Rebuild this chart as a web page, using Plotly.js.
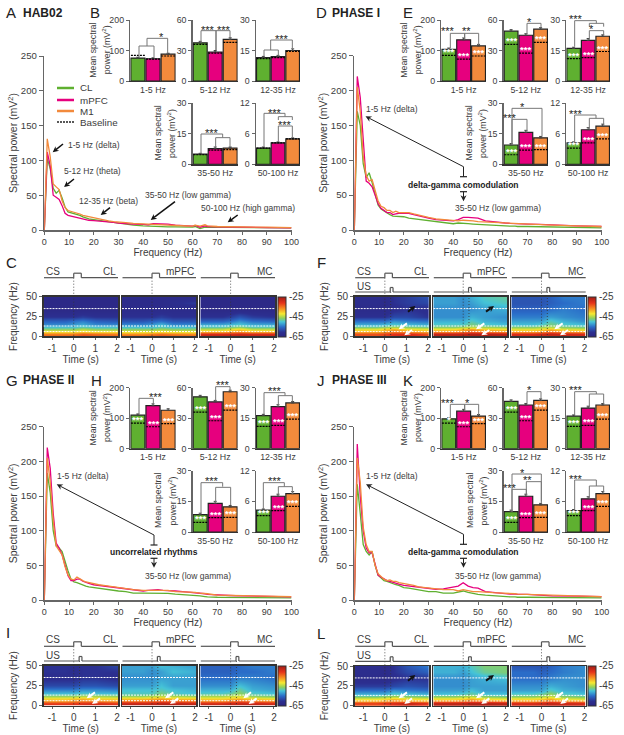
<!DOCTYPE html>
<html>
<head>
<meta charset="utf-8">
<script src="https://cdn.plot.ly/plotly-3.0.1.min.js"></script>
<style>html,body{margin:0;padding:0;background:#fff}</style>
</head>
<body>
<div id="chart" style="width:624px;height:735px"></div>
<script>
// spectra
const freq = [0,1.2,2.4,3.6,4.8,6,7.2,8.4,9.6,10.8,12,13.2,14.4,15.6,16.8,18,20,22,24,26,28,30,33,36,40,42,44,46,48,50,53,56,60,61,63,65,66,70,75,80,90,100];
const habCL = [0,103,88,60,53,57,46,33,26,25,23,22,21,19,17,16,15,14,13,12,10.5,9.5,8,7,6,5.5,5,5,5,4.5,4.5,4,4,5,2,4,4,4,3.5,3.5,3,3];
const habPFC = [0,112,92,50,47,44,35,24,21,20,20,19,18,17,15,14,13.5,13,13,12,11,10,9,8.5,8,7.5,9,9,9,8.5,7,6,5.5,6.5,4,6,5,4.5,4,4,3.5,3];
const habM1 = [0,131,105,66,62,58,42,32,28,27,25,24,23,21,20,19,18,16,14.5,13,12,11,10.5,9.5,8.5,8,8,7.5,7.5,7,6.5,6,5.5,7,5.5,7.5,6,5,4.5,4.5,4,3.5];
const ph1CL = [0,170,150,95,75,82,68,50,36,30,27,25,22,20,20,20,19,17,16,15,14,13,12,10.5,9,10,10,9,8.5,8,7,6.5,6,6,5.5,5.5,5,5,4.5,4.5,3.5,3];
const ph1PFC = [0,220,190,125,70,67,62,50,38,31,28,25,25,22,23,24,24,24,22,20,18,17,15,14,13,15,18,18,17,17,13,11.5,10,10,9.5,9,9,8.5,8,7,6,5];
const ph1M1 = [0,205,170,105,78,70,72,58,42,34,32,28,28,25,27,25,25,25,23,21,20,18,16,15,13,13,14,14,13,12,11.5,11,10,10,9.5,9.5,9,8,7.5,7,6,5];
const ph2CL = [0,183,155,100,78,75,70,55,42,30,26,25,23,21,20,19,18,17,15,14,14,13,12,10,10,10,10,10,9.5,9.5,8.5,8,6.5,6.5,6,5,4.5,4,4,3.5,3,3];
const ph2PFC = [0,220,190,125,82,75,65,48,35,28,28,30,30,27,25,24,22,21,20,19,19,18,16,15,13,14,15,15,14,14,13,12,11,11,10,9,8,7,6.5,6,5,4.5];
const ph2M1 = [0,205,170,115,78,72,65,48,36,30,29,33,30,28,26,25,23,22,21,20,19,18,16,15,14,14,15,14,14,14,12,12,11,11,10,10,9,7,6.5,6,5.5,5];
const ph3CL = [0,167,125,80,70,65,70,50,36,32,28,27,25,23,22,21,18,17,16,14,13,12,12,10,10,12,13,11,9,8,7,6,5,5,4.5,4.5,4,4,4,4,3.5,3];
const ph3PFC = [0,225,150,100,75,68,68,50,36,33,30,28,27,26,25,23,21,20,19,18,17,16,15.5,16,18,20,25,20,18,17,12,11,9,9,8.5,8.5,8,8,7,6,5.5,5];
const ph3M1 = [0,205,170,105,80,70,70,50,38,34,30,28,29,27,27,25,24,23,21,19,18,17,16,15,15,13,15,13,12,12,11,10.5,10,10,9.5,9,8.5,8,7.5,7,6,5];

// mean power per band: CL, mPFC, M1
const bands = ['1-5 Hz','5-12 Hz','12-35 Hz','35-50 Hz','50-100 Hz'];
const bandTop = [200,60,30,30,12];
const meansHab = [[75,73,88],[37.5,28.5,41],[11.5,12,15],[5,7.7,8],[3.2,4.2,5]];
const meansPh1 = [[104,135,115],[49,45,51],[16,20,22],[9.5,15.7,13],[4.2,6.8,7.5]];
const meansPh2 = [[110,141,126],[51,46,56],[16.3,20.7,22.5],[8.5,14,12.3],[4.3,7,7.5]];
const meansPh3 = [[98,123,107],[46.5,43,47.5],[16,20,21.5],[10,17.5,13.3],[4.2,6.5,7.5]];
const errHab = [[3,3,3],[1.5,1.5,1.5],[0.6,0.6,0.8],[0.4,0.8,0.5],[0.2,0.2,0.2]];
const errPh = [[4,6,5],[1.5,1.5,1.5],[0.6,0.9,0.7],[0.7,1,0.7],[0.2,0.4,0.4]];
const baselineBand = [[84,72,82],[36,27.5,38],[11,11.5,14.5],[4.7,7,7.2],[3.2,4.2,5]];

// spectrograms, dB, rows = spectFreq, columns = spectTime
const spectTime = [-1.4,-0.4,0,0.4,1,2.05];
const spectFreq = [0,3,6,9,12,15,20,25,35,42,50];
const zC1 = [[-33,-33,-33,-32,-33,-33],[-36,-36,-36,-34,-35,-36],[-41,-41,-41,-40,-41,-41],[-47,-47,-47,-45,-47,-47],[-50,-50,-50,-49,-50,-50],[-53,-53,-52,-51,-53,-53],[-56,-56,-55,-54,-56,-57],[-60,-60,-60,-59,-60,-60],[-63,-63,-63,-63,-63,-63],[-63,-63,-63,-63,-63,-63],[-63,-63,-63,-63,-63,-63]];
const zC2 = [[-33,-33,-33,-32,-33,-33],[-37,-37,-36,-35,-36,-37],[-42,-42,-42,-41,-42,-42],[-47,-47,-47,-46,-47,-47],[-50,-50,-50,-49,-50,-50],[-53,-53,-52,-50,-53,-53],[-57,-57,-56,-55,-57,-57],[-60,-60,-60,-59,-60,-60],[-62,-62,-62,-62,-62,-62],[-62,-62,-62,-62,-61,-59],[-62,-62,-62,-62,-62,-62]];
const zC3 = [[-27,-27,-27,-27,-27,-27],[-30,-30,-30,-29,-30,-30],[-38,-38,-37,-36,-38,-38],[-45,-45,-43,-41,-45,-45],[-49,-49,-48,-47,-49,-49],[-51,-51,-50,-49,-51,-51],[-56,-56,-55,-53,-55,-56],[-60,-60,-59,-57,-59,-60],[-63,-63,-63,-63,-63,-63],[-63,-63,-63,-63,-63,-63],[-63,-63,-63,-63,-63,-63]];
const zF1 = [[-33,-33,-33,-30,-28,-33],[-33,-33,-32,-31,-30,-33],[-38,-38,-37,-35,-36,-38],[-43,-43,-41,-39,-42,-43],[-48,-48,-47,-46,-47,-48],[-51,-51,-50,-49,-50,-51],[-55,-55,-55,-53,-54,-55],[-60,-60,-60,-58,-58,-60],[-62,-62,-62,-61,-60,-61],[-61,-61,-62,-60,-59,-58],[-61,-61,-62,-60,-59,-57]];
const zF2 = [[-27,-27,-27,-26,-26,-27],[-28,-28,-28,-27,-27,-28],[-36,-36,-35,-33,-35,-36],[-42,-42,-40,-38,-41,-42],[-47,-47,-46,-45,-46,-47],[-49,-49,-49,-47,-49,-50],[-51,-51,-51,-49,-51,-52],[-53,-53,-53,-51,-52,-53],[-53,-53,-53,-53,-52,-51],[-52,-52,-53,-52,-50,-49],[-52,-52,-53,-51,-49,-48]];
const zF3 = [[-29,-29,-29,-29,-28,-29],[-30,-30,-29,-28,-29,-30],[-37,-37,-36,-34,-36,-37],[-43,-43,-42,-40,-43,-44],[-47,-47,-46,-45,-47,-48],[-50,-50,-49,-47,-49,-50],[-52,-52,-52,-49,-51,-53],[-54,-54,-54,-52,-53,-54],[-56,-56,-56,-55,-54,-55],[-57,-57,-57,-56,-55,-54],[-57,-57,-57,-56,-54,-54]];
const zI1 = [[-32,-32,-32,-31,-31,-32],[-31,-31,-31,-30,-29,-31],[-38,-38,-37,-36,-37,-38],[-41,-41,-40,-39,-41,-41],[-47,-47,-47,-46,-46,-47],[-50,-50,-50,-49,-50,-50],[-54,-54,-54,-53,-53,-54],[-58,-58,-58,-57,-57,-58],[-61,-61,-61,-60,-60,-61],[-60,-60,-61,-60,-60,-60],[-60,-60,-60,-60,-60,-58]];
const zI2 = [[-28,-28,-28,-27,-27,-28],[-28,-28,-28,-27,-27,-28],[-36,-36,-35,-34,-35,-36],[-40,-40,-39,-38,-40,-40],[-47,-47,-46,-45,-46,-47],[-49,-49,-49,-47,-49,-50],[-50,-50,-50,-49,-50,-51],[-52,-52,-52,-50,-52,-52],[-53,-53,-53,-52,-52,-52],[-52,-52,-53,-52,-50,-51],[-52,-52,-52,-50,-51,-52]];
const zI3 = [[-29,-29,-29,-28,-28,-29],[-29,-29,-28,-28,-28,-29],[-37,-37,-36,-34,-36,-37],[-41,-41,-40,-39,-41,-42],[-46,-46,-45,-44,-47,-48],[-49,-49,-48,-46,-49,-50],[-51,-51,-51,-48,-51,-52],[-53,-53,-53,-50,-52,-53],[-55,-55,-55,-54,-54,-55],[-56,-56,-56,-55,-55,-54],[-56,-56,-56,-55,-54,-54]];
const zL1 = [[-33,-33,-33,-31,-29,-33],[-32,-32,-31,-30,-28,-31],[-38,-38,-37,-36,-37,-38],[-42,-42,-41,-39,-41,-42],[-48,-48,-47,-46,-47,-48],[-51,-51,-51,-49,-50,-51],[-55,-55,-55,-53,-54,-55],[-59,-59,-59,-58,-57,-58],[-62,-62,-62,-61,-60,-60],[-61,-61,-62,-60,-58,-56],[-61,-61,-62,-60,-57,-54]];
const zL2 = [[-27,-27,-27,-26,-26,-27],[-28,-28,-28,-27,-27,-28],[-36,-36,-35,-34,-35,-36],[-41,-41,-40,-38,-41,-42],[-47,-47,-46,-45,-47,-48],[-50,-50,-49,-48,-50,-50],[-52,-52,-52,-50,-52,-52],[-53,-53,-53,-52,-52,-52],[-53,-53,-53,-52,-51,-50],[-51,-51,-52,-50,-48,-47],[-51,-51,-51,-49,-47,-47]];
const zL3 = [[-29,-29,-29,-28,-28,-29],[-30,-30,-29,-28,-29,-30],[-37,-37,-36,-34,-36,-37],[-41,-41,-40,-38,-42,-43],[-47,-47,-46,-44,-47,-48],[-49,-49,-48,-46,-49,-50],[-52,-52,-52,-49,-51,-52],[-53,-53,-53,-51,-52,-53],[-55,-55,-55,-54,-53,-53],[-55,-55,-56,-55,-54,-53],[-57,-57,-57,-56,-54,-53]];

const W = 624, H = 735;
const GREEN = '#5fb030', PINK = '#e6007e', ORANGE = '#f28a3c';
const TEXT = '#3c3c3c', AXIS = '#666';
const FONT = '"Liberation Sans", Arial, sans-serif';
const jet = [[0,'#2c2580'],[0.12,'#2c2f90'],[0.25,'#2a6cc8'],[0.38,'#45c4d8'],[0.47,'#8fd05a'],[0.58,'#f7e930'],[0.7,'#f79420'],[0.85,'#e5321a'],[1,'#a01c14']];

const traces = [], shapes = [], annotations = [];
const layout = {
  width: W, height: H,
  margin: {l:0, r:0, t:0, b:0},
  paper_bgcolor: '#fff', plot_bgcolor: '#fff',
  font: {family: FONT, color: TEXT, size: 10},
  showlegend: false, shapes, annotations
};

const fx = x => x / W;
const fy = y => 1 - y / H;
let axisCount = 0;

function addAxes(box, xOpts, yOpts) {
  const n = ++axisCount;
  const suffix = n === 1 ? '' : String(n);
  layout['xaxis' + suffix] = Object.assign({domain: [fx(box[0]), fx(box[1])], anchor: 'y' + suffix, fixedrange: true, zeroline: false, showgrid: false}, xOpts);
  layout['yaxis' + suffix] = Object.assign({domain: [fy(box[3]), fy(box[2])], anchor: 'x' + suffix, fixedrange: true, zeroline: false, showgrid: false}, yOpts);
  return {x: 'x' + suffix, y: 'y' + suffix};
}

function label(x, y, text, size, opts) {
  annotations.push(Object.assign({xref: 'paper', yref: 'paper', x: fx(x), y: fy(y), text, showarrow: false,
    xanchor: 'left', yanchor: 'middle', font: {size: size || 9.5, color: TEXT}}, opts));
}

function line(x1, y1, x2, y2, color, width, dash) {
  shapes.push({type: 'line', xref: 'paper', yref: 'paper', x0: fx(x1), y0: fy(y1), x1: fx(x2), y1: fy(y2),
    line: {color: color || AXIS, width: width || 1, dash: dash || 'solid'}});
}

// stem plus a notched head, both as paper shapes
function arrow(hx, hy, tx, ty, color, width, headLen) {
  const c = color || '#222', len = headLen || 6;
  const a = Math.atan2(hy - ty, hx - tx), ux = Math.cos(a), uy = Math.sin(a);
  const bx = hx - ux * len, by = hy - uy * len;
  const nx = hx - ux * len * 0.7, ny = hy - uy * len * 0.7;
  const hw = len * 0.5;
  line(tx, ty, nx, ny, c, width || 1.2);
  const pt = (x, y) => fx(x) + ' ' + fy(y);
  shapes.push({type: 'path', xref: 'paper', yref: 'paper', fillcolor: c, line: {width: 0},
    path: 'M ' + pt(hx, hy) + ' L ' + pt(bx - uy * hw, by + ux * hw) + ' L ' + pt(nx, ny) + ' L ' + pt(bx + uy * hw, by - ux * hw) + ' Z'});
}

function spectrum(box, cl, pfc, m1) {
  const ax = addAxes(box,
    {range: [0, 100], tickvals: [0,10,20,30,40,50,60,70,80,90,100], ticks: 'outside', ticklen: 3, tickcolor: AXIS, showline: true, linecolor: AXIS, linewidth: 1.5,
     tickfont: {size: 9}, title: {text: 'Frequency (Hz)', font: {size: 10}, standoff: 2}},
    {range: [0, 250], tickvals: [0,50,100,150,200,250], ticks: 'outside', ticklen: 4, tickcolor: AXIS, showline: true, linecolor: AXIS, linewidth: 1.5,
     tickfont: {size: 9.6}, title: {text: 'Spectral power (mV<sup>2</sup>)', font: {size: 10.5}, standoff: 1}});
  [[cl, GREEN], [pfc, PINK], [m1, ORANGE]].forEach(s => {
    traces.push({type: 'scatter', mode: 'lines', x: freq, y: s[0], xaxis: ax.x, yaxis: ax.y, line: {color: s[1], width: 1.3}, hoverinfo: 'skip'});
  });
}

function barPanel(box, band, means, errs, whiteStars) {
  const ax = addAxes(box,
    {range: [-0.5, 2.5], tickvals: [1], ticktext: [bands[band]], ticks: '', showline: true, linecolor: '#333', linewidth: 1.2, tickfont: {size: 8.8}},
    {range: [0, bandTop[band]], tickvals: [0, bandTop[band] / 2, bandTop[band]], ticks: 'outside', ticklen: 3, tickcolor: AXIS, showline: true, linecolor: AXIS, linewidth: 1.5, tickfont: {size: 8.8}});
  traces.push({type: 'bar', x: [0,1,2], y: means, xaxis: ax.x, yaxis: ax.y, width: 0.93, cliponaxis: false,
    marker: {color: [GREEN, PINK, ORANGE], line: {color: '#222', width: 1.2}},
    error_y: {type: 'data', array: errs, symmetric: false, arrayminus: [0,0,0], color: '#444', thickness: 1, width: 1.5}, hoverinfo: 'skip'});
  const bx = [], by = [];
  baselineBand[band].forEach((v, i) => { bx.push(i - 0.46, i + 0.46, null); by.push(v, v, null); });
  traces.push({type: 'scatter', mode: 'lines', x: bx, y: by, xaxis: ax.x, yaxis: ax.y, cliponaxis: false, line: {color: '#000', width: 1.2, dash: '2px,1px'}, hoverinfo: 'skip'});
  if (whiteStars) {
    baselineBand[band].forEach((v, i) => {
      annotations.push({xref: ax.x, yref: ax.y, x: i, y: v, text: '<b>' + whiteStars[i] + '</b>', showarrow: false, yanchor: 'bottom', yshift: -4,
        font: {size: 9.5, color: '#fff', family: FONT}});
    });
  }
}

// brackets are given in 3x zoom pixels of the page, relative to (ox, oy)
function brackets(ox, oy, list, stars) {
  list.forEach(b => {
    const x1 = ox + b[0] / 3, x2 = ox + b[1] / 3, top = oy + b[2] / 3;
    line(x1, oy + b[3] / 3, x1, top, '#777', 1);
    line(x1, top, x2, top, '#777', 1);
    line(x2, top, x2, oy + b[4] / 3, '#777', 1);
  });
  stars.forEach(s => {
    annotations.push({xref: 'paper', yref: 'paper', x: fx(ox + s[0] / 3), y: fy(oy + s[1] / 3), text: s[2], showarrow: false, yanchor: 'middle', yshift: -2,
      font: {size: 11, color: '#222'}});
  });
}

function yLabel2(x, y) {
  label(x, y, 'Mean spectral', 8.8, {textangle: -90, xanchor: 'center'});
  label(x + 13.5, y, 'power (mV<sup>2</sup>)', 8.8, {textangle: -90, xanchor: 'center'});
}

function barBlock(cols, row1, row2, means, errs, starTable) {
  barPanel([cols[0][0], cols[0][1], row1[0], row1[1]], 0, means[0], errs[0], starTable && starTable[0]);
  barPanel([cols[1][0], cols[1][1], row1[0], row1[1]], 1, means[1], errs[1], starTable && starTable[1]);
  barPanel([cols[2][0], cols[2][1], row1[0], row1[1]], 2, means[2], errs[2], starTable && starTable[2]);
  barPanel([cols[1][0], cols[1][1], row2[0], row2[1]], 3, means[3], errs[3], starTable && starTable[3]);
  barPanel([cols[2][0], cols[2][1], row2[0], row2[1]], 4, means[4], errs[4], starTable && starTable[4]);
  yLabel2(cols[0][0] - 37.5, row1[0] + 30);
  yLabel2(cols[1][0] - 34.5, row2[0] + 30);
}

function spectBlock(boxes, top, bottom, zs, cbX, pulses, names) {
  zs.forEach((z, i) => {
    const b = boxes[i];
    const ax = addAxes([b[0], b[1], top, bottom],
      {range: [-1.4, 2.05], tickvals: [-1,0,1,2], ticktext: ['-1','0','1','2'], ticks: 'outside', ticklen: 2, tickcolor: AXIS, showline: true, mirror: true, linecolor: '#333', linewidth: 1.5,
       tickfont: {size: 10}, title: {text: 'Time (s)', font: {size: 10}, standoff: 2}},
      i === 0
        ? {range: [0, 50], tickvals: [0,25,50], ticks: 'outside', ticklen: 3, tickcolor: AXIS, showline: true, mirror: true, linecolor: '#333', linewidth: 1.5, tickfont: {size: 10},
           title: {text: 'Frequency (Hz)', font: {size: 10}, standoff: 6}}
        : {range: [0, 50], showticklabels: false, ticks: '', showline: true, mirror: true, linecolor: '#333', linewidth: 1.5});
    const tr = {type: 'heatmap', x: spectTime, y: spectFreq, z, xaxis: ax.x, yaxis: ax.y, zmin: -65, zmax: -25, colorscale: jet, zsmooth: 'best', showscale: i === 2, hoverinfo: 'skip'};
    if (i === 2) {
      tr.colorbar = {thickness: 8, thicknessmode: 'pixels', len: bottom - top, lenmode: 'pixels', x: fx(cbX), xanchor: 'left', xpad: 0, ypad: 0,
        y: fy((top + bottom) / 2), yanchor: 'middle', tickvals: [-25,-45,-65], ticktext: ['-25','-45','-65'], ticks: '', outlinewidth: 1, outlinecolor: '#333', tickfont: {size: 10}};
    }
    traces.push(tr);
    // band limits marked on each map
    [35, 13, 6].forEach(f => {
      shapes.push({type: 'line', xref: ax.x, yref: ax.y, x0: -1.4, x1: 2.05, y0: f, y1: f, line: {color: '#fff', width: 1, dash: '2px,1px'}});
    });
    const tx = t => b[0] + (t + 1.4) / 3.45 * (b[1] - b[0]);
    // CS step, then the US step if the phase has one
    const cs = pulses.cs, us = pulses.us;
    const left = b[0] + 0.5, right = b[1];
    const step = (base, hi, t0, t1) => {
      line(left, base, tx(t0), base, '#555', 1.2);
      line(tx(t0), base, tx(t0), hi, '#555', 1.2);
      line(tx(t0), hi, tx(t1), hi, '#555', 1.2);
      line(tx(t1), hi, tx(t1), base, '#555', 1.2);
      line(tx(t1), base, right, base, '#555', 1.2);
    };
    step(cs, cs - 4.5, 0, 0.35);
    line(tx(0), cs, tx(0), bottom, '#333', 0.8, '1px,2px');
    if (us) {
      step(us, us - 4.5, 0.25, 0.38);
      line(tx(0.27), us, tx(0.27), bottom, '#333', 0.8, '1px,2px');
    }
    label(b[1], cs - 6.5, names[i], 10, {xanchor: 'right'});
    if (i === 0) {
      label(b[0], cs - 6.5, 'CS', 10);
      if (us) label(b[0], us - 6, 'US', 10);
    }
  });
}

// spectra panels
spectrum([44.3, 291.5, 56, 230], habCL, habPFC, habM1);
spectrum([354.3, 601.7, 55.5, 230], ph1CL, ph1PFC, ph1M1);
spectrum([44.3, 291.5, 426.7, 600], ph2CL, ph2PFC, ph2M1);
spectrum([354.3, 601.7, 426.7, 600], ph3CL, ph3PFC, ph3M1);

// bar panels
const leftCols = [[130.3,175.7],[192.7,237.7],[256,300]];
const rightCols = [[441.3,486],[503.7,548],[566.3,610]];
const stars3 = [['***','***','***'],['***','***','***'],['***','***','***'],['***','***','***'],['***','***','***']];
const starsK = [['*','***','***'],['***','***','***'],['***','***','***'],['***','***','***'],['***','***','***']];
barBlock(leftCols, [20,81], [103.3,164.3], meansHab, errHab, null);
barBlock(rightCols, [20,81], [103.3,164.3], meansPh1, errPh, stars3);
barBlock(leftCols, [387.7,448.7], [470.7,532], meansPh2, errPh, stars3);
barBlock(rightCols, [387.7,448.7], [470.7,532], meansPh3, errPh, starsK);

brackets(0, 0,
  [[417,462,138,172,172],[441,503,115,138,160],[603,648,92,128,150],[648,690,92,150,118],[792,835,150,168,168],[812,877,120,150,145],
   [603,668,402,460,413],[647,690,413,442,442],[792,855,340,440,350],[835,877,350,360,360],[835,877,378,425,413]],
  [[470,106,'*'],[625,85,'***'],[672,85,'***'],[845,110,'***'],[636,392,'***'],[825,332,'***'],[855,368,'***']]);
brackets(312, 0,
  [[415,458,100,145,118],[458,500,100,118,135],[645,687,70,103,85],[788,853,62,140,70],[832,875,70,80,80],[832,875,92,120,105],
   [600,690,325,435,410],[600,645,358,435,395],[788,852,345,425,355],[832,875,355,388,378]],
  [[435,88,'***'],[482,88,'**'],[665,60,'*'],[820,52,'***'],[853,82,'*'],[645,315,'*'],[622,348,'***'],[820,335,'***']]);
brackets(0, 370,
  [[417,460,85,133,105],[647,690,50,92,62],[792,855,68,132,77],[835,877,77,105,95],[603,668,338,430,350],[647,692,352,398,405],[790,853,338,418,350],[835,877,350,378,372]],
  [[440,75,'***'],[670,40,'***'],[825,58,'***'],[637,328,'***'],[825,328,'***']]);
brackets(312, 370,
  [[415,458,103,145,122],[458,500,103,122,135],[645,687,65,100,85],[788,853,65,135,72],[832,875,72,112,102],
   [600,688,312,425,395],[600,643,358,425,375],[643,688,335,375,400],[788,853,330,420,348],[832,875,348,385,368]],
  [[435,93,'***'],[480,93,'*'],[665,55,'*'],[820,55,'***'],[645,302,'*'],[622,348,'***'],[665,325,'**'],[820,320,'***']]);

// spectrograms
const leftMaps = [[43.5,118],[122,196],[200.3,275]];
const rightMaps = [[354.7,429],[433.3,507],[511.3,585.7]];
const mapNames = ['CL','mPFC','MC'];
spectBlock(leftMaps, 296.7, 336.3, [zC1,zC2,zC3], 277.5, {cs: 277.7}, mapNames);
spectBlock(rightMaps, 296.7, 336.3, [zF1,zF2,zF3], 588, {cs: 277.7, us: 292}, mapNames);
spectBlock(leftMaps, 665.5, 705.5, [zI1,zI2,zI3], 277.5, {cs: 646.3, us: 661}, mapNames);
spectBlock(rightMaps, 666, 705.7, [zL1,zL2,zL3], 588, {cs: 646.3, us: 661.3}, mapNames);

// arrows over the maps, in 3x zoom pixels as [tailX, tailY, headX, headY]
function mapArrows(ox, oy, list, color) {
  list.forEach(a => arrow(ox + a[2] / 3, oy + a[3] / 3, ox + a[0] / 3, oy + a[1] / 3, color, 2, 6));
}
mapArrows(312, 190, [[285,400,260,418],[300,420,277,436],[517,400,492,418],[532,420,508,436],[752,400,727,418],[768,420,744,436]], '#fff');
mapArrows(312, 190, [[288,365,310,348],[522,365,546,348]], '#111');
mapArrows(0, 555, [[285,412,260,430],[300,430,276,447],[520,412,495,430],[535,430,510,447],[753,412,730,430],[770,430,746,447]], '#fff');
mapArrows(312, 555, [[285,412,260,430],[300,430,277,447],[517,412,492,430],[532,430,508,447],[753,412,728,430],[768,430,745,447]], '#fff');
mapArrows(312, 555, [[288,377,310,360],[522,377,546,360]], '#111');

// panel letters and headings
[['A',4,12.7],['B',88,12.7],['C',4,262],['D',314,12.7],['E',401,12.7],['F',315,262],['G',4,380],['H',89,380],['I',4,632],['J',315,380],['K',401,380],['L',315,633]]
  .forEach(p => label(p[1], p[2], p[0], 15, {font: {size: 15, color: '#222'}}));
label(21, 13, '<b>HAB02</b>', 12, {font: {size: 12, color: '#222'}});
label(330, 13, '<b>PHASE I</b>', 12, {font: {size: 12, color: '#222'}});
label(21, 380.5, '<b>PHASE II</b>', 12, {font: {size: 12, color: '#222'}});
label(330, 380.5, '<b>PHASE III</b>', 12, {font: {size: 12, color: '#222'}});

// legend in panel A
[['CL',GREEN,88],['mPFC',PINK,100],['M1',ORANGE,111]].forEach(l => {
  line(57, l[2], 74, l[2], l[1], 2.5);
  label(78, l[2], l[0], 9.8);
});
line(57, 122, 74, 122, '#222', 1.3, '2px,1px');
label(78, 122, 'Baseline', 9.8);

// notes on panel A
label(66, 145, '1-5 Hz (delta)', 8.5);
arrow(52.7, 152.3, 63, 144, '#111', 1.5);
label(62, 171, '5-12 Hz (theta)', 8.5);
arrow(64, 187, 74, 179, '#111', 1.5);
label(76.7, 200.7, '12-35 Hz (beta)', 8.5);
arrow(100.7, 215, 110, 207.7, '#111', 1.5);
label(143, 195, '35-50 Hz (low gamma)', 8.5);
arrow(150.7, 220, 175, 201.7, '#111', 1.5);
label(199, 208.3, '50-100 Hz (high gamma)', 8.5);
arrow(227.7, 222.3, 237.7, 215, '#111', 1.5);

// delta to gamma callouts on D, G, J
function callout(midText, deltaX, deltaY, headX, headY, tailX, tailY, midY, lowY, gammaX, gammaY) {
  label(deltaX, deltaY, '1-5 Hz (delta)', 8.5);
  arrow(headX, headY, tailX, tailY, '#222', 1);
  line(tailX, tailY, tailX, tailY + 10, '#222', 1);
  line(tailX - 3.5, tailY + 10, tailX + 3.5, tailY + 10, '#222', 1.2);
  label(tailX + 0.4, midY, '<b>' + midText + '</b>', 8.5, {xanchor: 'center', font: {size: 8.5, color: '#222'}});
  line(tailX - 3.5, lowY, tailX + 3.5, lowY, '#222', 1.2);
  arrow(tailX, lowY + 9.5, tailX, lowY, '#222', 1);
  label(gammaX, gammaY, '35-50 Hz (low gamma)', 8.5);
}
callout('delta-gamma comodulation', 364.3, 108.7, 365.5, 116.3, 463.5, 166.7, 184.5, 191.7, 452.7, 208.3);
callout('uncorrelated rhythms', 55, 475.7, 56.7, 484.3, 154, 535, 551.7, 558.3, 143.3, 575.7);
callout('delta-gamma comodulation', 364.3, 475.7, 366, 484.3, 463.5, 534.3, 551.7, 558.3, 452.7, 575.7);

Plotly.newPlot('chart', traces, layout, {displayModeBar: false, staticPlot: true});
</script>
</body>
</html>
